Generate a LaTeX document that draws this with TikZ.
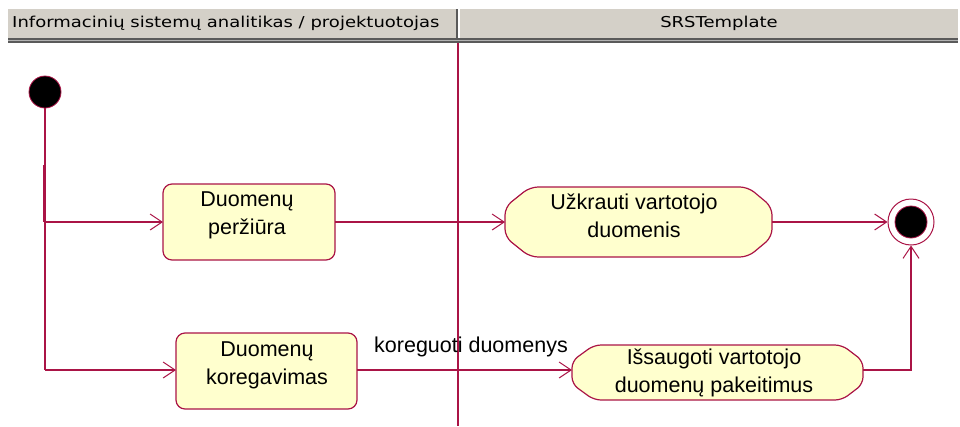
\documentclass[tikz,border=0pt]{standalone}
\usepackage{fontspec}
\setmainfont{Liberation Sans}
\newfontfamily\hdrfont{DejaVu Sans}
\usetikzlibrary{arrows.meta}
\definecolor{umlred}{RGB}{170,20,70}
\definecolor{umlfill}{RGB}{255,255,206}
\definecolor{hdrgray}{RGB}{212,208,200}
\definecolor{hdrdark}{RGB}{90,90,90}
\tikzset{
  flow/.style={draw=umlred, line width=1.2pt, -{Straight Barb[length=12pt,width=16pt,line width=1pt]}},
  plain/.style={draw=umlred, line width=1.2pt},
  actbox/.style={draw=umlred, line width=1.2pt, fill=umlfill, rounded corners=9pt},
  txt/.style={font=\fontsize{21.5}{28}\selectfont, align=center, inner sep=0pt},
  hdr/.style={font=\hdrfont\fontsize{15}{17}\selectfont, inner sep=0pt, xscale=1.2}
}
\begin{document}
\begin{tikzpicture}[x=1pt,y=-1pt]
\useasboundingbox (0,0) rectangle (960,426);
% headers
\fill[hdrgray] (8,9) rectangle (958,39);
\fill[hdrdark] (8,38) rectangle (958,43);
\fill[gray!60] (8,40) rectangle (958,41);
\fill[hdrdark] (455.5,9) rectangle (458,40);
\fill[white] (458,9) rectangle (460,38);
\node[hdr, anchor=west] (h1) at (12,23) {Informacinių sistemų analitikas / projektuotojas};
\node[hdr] (h2) at (719,23) {SRSTemplate};
% swimlane divider
\draw[umlred, line width=1.2pt] (458,43) -- (458,426);
% initial node
\node[circle, fill=black, draw=umlred, line width=0.8pt, minimum size=32pt, inner sep=0pt] (init) at (45,92) {};
% activities
\draw[actbox] (163,184) rectangle (335,260);
\node[txt] (a1) at (247,215) {Duomenų\\peržiūra};
\coordinate (a1w) at (163,222);
\coordinate (a1e) at (335,222);
\draw[actbox] (176,333) rectangle (357,409);
\node[txt] (a2) at (267,365) {Duomenų\\koregavimas};
\coordinate (a2w) at (176,370);
\coordinate (a2e) at (357,370);
\draw[umlred, line width=1.2pt, fill=umlfill, rounded corners=8pt]
  (530,187) -- (748,187) -- (772,207) -- (772,237) -- (748,257) -- (530,257) -- (505,237) -- (505,207) -- cycle;
\node[txt] (a3) at (634,216) {Užkrauti vartotojo\\duomenis};
\coordinate (a3w) at (505,222);
\coordinate (a3e) at (772,222);
\draw[umlred, line width=1.2pt, fill=umlfill, rounded corners=7pt]
  (594,345) -- (842,345) -- (863,361) -- (863,384) -- (842,400) -- (594,400) -- (572,384) -- (572,361) -- cycle;
\node[txt] (a4) at (714,372.5) {Išsaugoti vartotojo\\duomenų pakeitimus};
\coordinate (a4w) at (572,370);
\coordinate (a4e) at (863,370);
% final node
\node[circle, draw=umlred, fill=white, line width=1pt, minimum size=46pt, inner sep=0pt] (fin) at (911,222) {};
\node[circle, fill=black, draw=umlred, line width=0.8pt, minimum size=32pt, inner sep=0pt] (fin2) at (911,222) {};
% connectors
\coordinate (j1) at (45,222);
\coordinate (j2) at (45,370);
\coordinate (k1) at (911,370);
\draw[plain] (init.south) -- (j2);
\draw[umlred, line width=2.6pt] (44.5,165) -- (44.5,222);
\draw[flow] (j1) -- (a1w);
\draw[flow] (j2) -- (a2w);
\draw[flow] (a1e) -- (a3w);
\draw[flow] (a3e) -- (fin.west);
\draw[flow] (a2e) -- (a4w);
\node[txt] (lbl) at (471,347) {koreguoti duomenys};
\draw[flow] (a4e) -- (k1) -- (fin.south);
\end{tikzpicture}
\end{document}
